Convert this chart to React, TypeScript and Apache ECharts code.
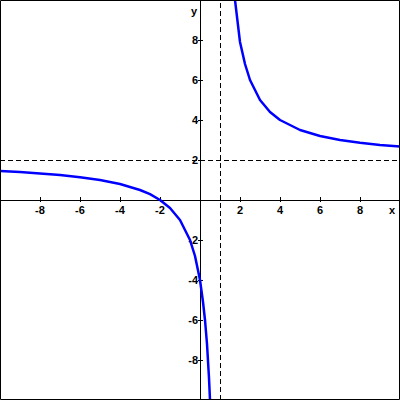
import React, { useEffect, useRef } from "react";
import * as echarts from "echarts";

const leftX = [-10, -9, -8, -7, -6, -5, -4, -3, -2.5, -2, -1.5, -1, -0.5, -0.25, 0, 0.15, 0.25, 0.35, 0.45, 0.5];
const leftY = [1.45, 1.4, 1.33, 1.25, 1.14, 1.0, 0.8, 0.5, 0.29, 0, -0.4, -1, -2, -2.8, -4, -5.1, -6, -7.2, -8.9, -10];
const rightX = [1.65, 1.75, 2, 2.25, 2.5, 3, 3.5, 4, 5, 6, 7, 8, 9, 10];
const rightY = [11.2, 10, 7.9, 6.8, 6, 5, 4.4, 4, 3.5, 3.2, 3, 2.86, 2.75, 2.67];
const verticalAsymptote = 1;
const horizontalAsymptote = 2;
const axisMin = -10;
const axisMax = 10;
const tickStep = 2;

const fmt = (v: number) => (v === 0 || Math.abs(v) === 10 ? "" : String(v));

export default function App() {
  const ref = useRef<HTMLDivElement>(null);
  useEffect(() => {
    document.body.style.margin = "0";
    const chart = echarts.init(ref.current!, null, { renderer: "svg" });
    const labelStyle = {
      fontFamily: "Liberation Sans",
      fontWeight: "bold" as const,
      fontSize: 11,
      color: "#000",
    };
    const baseAxis = {
      type: "value" as const,
      min: axisMin,
      max: axisMax,
      interval: tickStep,
      offset: -200,
      splitLine: { show: false },
      axisLine: { show: true, onZero: false, lineStyle: { color: "#000", width: 1 } },
    };
    chart.setOption({
      animation: false,
      backgroundColor: "#fff",
      grid: { left: 0, right: 0, top: 0, bottom: 0, containLabel: false, outerBoundsMode: "none" },
      xAxis: [
        {
          ...baseAxis,
          position: "bottom",
          axisTick: { show: true, length: 2, lineStyle: { color: "#000" } },
          axisLabel: { ...labelStyle, margin: 4, formatter: fmt },
        },
        {
          ...baseAxis,
          position: "bottom",
          axisTick: { show: true, inside: true, length: 3, lineStyle: { color: "#000" } },
          axisLabel: { show: false },
        },
      ],
      yAxis: [
        {
          ...baseAxis,
          position: "left",
          axisTick: { show: true, length: 2, lineStyle: { color: "#000" } },
          axisLabel: { ...labelStyle, margin: 2, formatter: fmt },
        },
        {
          ...baseAxis,
          position: "left",
          axisTick: { show: true, inside: true, length: 3, lineStyle: { color: "#000" } },
          axisLabel: { show: false },
        },
      ],
      graphic: [
        {
          type: "rect",
          shape: { x: 0.5, y: 0.5, width: 399, height: 399 },
          style: { fill: "none", stroke: "#000", lineWidth: 1 },
          z: 100,
        },
        {
          type: "text",
          x: 392,
          y: 210,
          style: { text: "x", ...labelStyle, fill: "#000", align: "center", verticalAlign: "middle" },
        },
        {
          type: "text",
          x: 194,
          y: 11,
          style: { text: "y", ...labelStyle, fill: "#000", align: "center", verticalAlign: "middle" },
        },
      ],
      series: [
        {
          type: "line",
          xAxisIndex: 0,
          yAxisIndex: 0,
          data: leftX.map((x, i) => [x, leftY[i]]),
          showSymbol: false,
          symbol: "none",
          clip: true,
          lineStyle: { color: "#0000ff", width: 2.5 },
          markLine: {
            silent: true,
            symbol: ["none", "none"],
            label: { show: false },
            lineStyle: { color: "#000", type: [5, 3], width: 1 },
            data: [{ xAxis: verticalAsymptote }, { yAxis: horizontalAsymptote }],
          },
        },
        {
          type: "line",
          xAxisIndex: 0,
          yAxisIndex: 0,
          data: rightX.map((x, i) => [x, rightY[i]]),
          showSymbol: false,
          symbol: "none",
          clip: true,
          lineStyle: { color: "#0000ff", width: 2.5 },
        },
      ],
    });
    return () => chart.dispose();
  }, []);
  return <div ref={ref} style={{ position: "fixed", left: 0, top: 0, width: 400, height: 400 }} />;
}
